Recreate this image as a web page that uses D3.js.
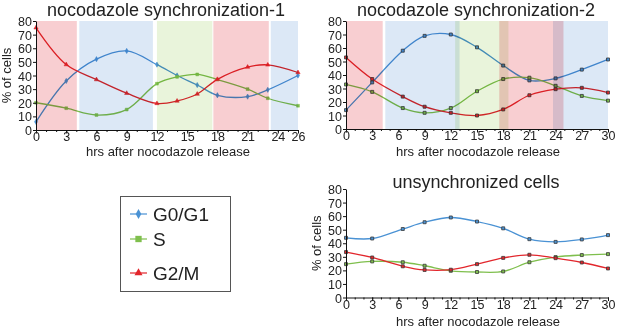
<!DOCTYPE html>
<html lang="en">
<head>
  <meta charset="UTF-8">
  <title>nocodazole synchronization</title>
  <script src="https://cdn.jsdelivr.net/npm/d3@7"></script>
  <style>
    body { margin: 0; background: #fff; }
    svg { font-family: 'Liberation Sans', Arial, sans-serif; }
  </style>
</head>
<body>
</body>
<script>
  // phases + colours
  const phases = ['G0/G1', 'S', 'G2/M']
  const lineColor = { 'G0/G1': '#4a92d4', 'S': '#7fbf4d', 'G2/M': '#e2262c' }
  const bgColor = { 'G0/G1': '#dce8f6', 'S': '#e9f4db', 'G2/M': '#f8ced1' }

  // panel 1 : synchronization-1
  const hours1 = [0, 3, 6, 9, 12, 14, 16, 18, 21, 23, 26]
  const g1Sync1 = [6, 36, 52, 58, 48, 40, 33, 25.5, 24.5, 29.5, 40]
  const sSync1 = [20, 16, 11, 15, 34, 39, 40.8, 37, 30, 23.3, 17.8]
  const g2Sync1 = [75, 48, 37, 27, 19.5, 21.3, 26.4, 37.2, 46.2, 47.8, 42.2]
  const shade1 = [['G2/M', 0, 4.05], ['G0/G1', 4.3, 11.6], ['S', 12, 17.5], ['G2/M', 17.6, 23.1], ['G0/G1', 23.3, 26]]
  const xTicks1 = [0, 3, 6, 9, 12, 15, 18, 21, 24, 26]

  // panel 2 : synchronization-2
  const hours2 = [0, 3, 6.5, 9, 12, 15, 18, 21, 24, 27, 30]
  const g1Sync2 = [14, 34.5, 58, 69, 70, 60.5, 47, 36, 37.5, 44, 51.5]
  const sSync2 = [33, 27.5, 15.5, 12, 15.5, 28, 37, 38, 32, 24.5, 21]
  const g2Sync2 = [53, 37, 24, 16.5, 12, 10, 14.5, 25, 29.5, 30.5, 27]
  const shade2 = [['G2/M', 0, 4.2], ['G0/G1', 4.5, 13], ['S', 12.5, 18.6], ['G2/M', 17.55, 24.9], ['G0/G1', 23.7, 30]]
  const xTicks2 = [0, 3, 6, 9, 12, 15, 18, 21, 24, 27, 30]

  // panel 3 : unsynchronized
  const hours3 = [0, 3, 6.5, 9, 12, 15, 18, 21, 24, 27, 30]
  const g1Unsync = [44, 43.5, 50.5, 55.5, 59, 56, 51, 43, 41, 42.8, 46]
  const sUnsync = [24.6, 26.6, 26, 23.4, 19.7, 18.8, 19.2, 26, 29.8, 31.3, 32]
  const g2Unsync = [33.5, 29.5, 23, 20.3, 20.5, 24.6, 29.2, 31.5, 29, 25.8, 21.4]

  const yTicks = [0, 10, 20, 30, 40, 50, 60, 70, 80]

  const width = 617
  const height = 327
  const svg = d3.select('body').append('svg').attr('width', width).attr('height', height)

  const panels = [
    { title: 'nocodazole synchronization-1', hours: hours1, series: [g1Sync1, sSync1, g2Sync1], shade: shade1,
      xMax: 26, xTicks: xTicks1, left: 36, right: 298, top: 21, bottom: 130, titleY: 15.5, xLabelY: 156,
      yLabel: true, marker: 'shape' },
    { title: 'nocodazole synchronization-2', hours: hours2, series: [g1Sync2, sSync2, g2Sync2], shade: shade2,
      xMax: 30, xTicks: xTicks2, left: 346, right: 608, top: 21, bottom: 129, titleY: 15.5, xLabelY: 156,
      yLabel: false, marker: 'bar' },
    { title: 'unsynchronized cells', hours: hours3, series: [g1Unsync, sUnsync, g2Unsync], shade: [],
      xMax: 30, xTicks: xTicks2, left: 346, right: 608, top: 189, bottom: 297.5, titleY: 187.5, xLabelY: 325.5,
      yLabel: true, marker: 'bar' }
  ]

  panels.forEach(p => drawPanel(p))

  function drawPanel(p) {
    const x = d3.scaleLinear().domain([0, p.xMax]).range([p.left, p.right])
    const y = d3.scaleLinear().domain([0, 80]).range([p.bottom, p.top])
    const g = svg.append('g')

    const line = d3.line()
      .x(d => x(d[0]))
      .y(d => y(d[1]))
      .curve(d3.curveCatmullRom.alpha(0.5))

    // curves
    p.series.forEach((vals, k) => {
      const pts = p.hours.map((h, i) => [h, vals[i]])
      const c = lineColor[phases[k]]
      g.append('path')
        .datum(pts)
        .attr('fill', 'none')
        .attr('stroke', c)
        .attr('stroke-width', 1.3)
        .attr('d', line)

      const sym = p.marker === 'shape'
        ? d3.symbol().type([d3.symbolDiamond, d3.symbolSquare, d3.symbolTriangle][k]).size(8)
        : d3.symbol().type(d3.symbolSquare).size(9)
      g.append('g')
        .selectAll('path')
        .data(pts)
        .join('path')
        .attr('transform', d => `translate(${x(d[0])},${y(d[1])})`)
        .attr('d', sym)
        .attr('fill', c)
        .attr('stroke', p.marker === 'bar' ? '#3a3a3a' : c)
        .attr('stroke-width', p.marker === 'bar' ? 0.8 : 0.5)
    })

    // phase shading, multiplied over the curves
    g.append('g')
      .selectAll('rect')
      .data(p.shade)
      .join('rect')
      .attr('x', d => x(d[1]))
      .attr('width', d => x(d[2]) - x(d[1]))
      .attr('y', y(80))
      .attr('height', y(0) - y(80))
      .attr('fill', d => bgColor[d[0]])
      .style('mix-blend-mode', 'multiply')

    // axes
    const yAxis = g.append('g')
      .attr('transform', `translate(${p.left},0)`)
      .call(d3.axisLeft(y).tickValues(yTicks).tickSize(3).tickPadding(1).tickSizeOuter(0))
    yAxis.selectAll('text').style('font-size', '12.5px').attr('fill', '#222').attr('dy', '0.36em')

    // minor ticks, every hour
    g.append('g')
      .attr('transform', `translate(0,${p.bottom})`)
      .call(d3.axisBottom(x).tickValues(d3.range(0, p.xMax + 1)).tickSize(2))
      .call(a => a.select('.domain').remove())
      .call(a => a.selectAll('text').remove())

    const xAxis = g.append('g')
      .attr('transform', `translate(0,${p.bottom})`)
      .call(d3.axisBottom(x).tickValues(p.xTicks).tickSize(3.5).tickSizeOuter(0))
    xAxis.selectAll('text').style('font-size', '12.5px').attr('fill', '#222').attr('y', 2.5)

    g.selectAll('.domain').attr('stroke', '#111')
    g.selectAll('.tick line').attr('stroke', '#111')

    // titles
    g.append('text')
      .attr('x', (p.left + p.right) / 2 - 1)
      .attr('y', p.titleY)
      .attr('text-anchor', 'middle')
      .style('font-size', '18px')
      .attr('fill', '#222')
      .text(p.title)

    g.append('text')
      .attr('x', (p.left + p.right) / 2 + 1)
      .attr('y', p.xLabelY)
      .attr('text-anchor', 'middle')
      .style('font-size', '13px')
      .attr('fill', '#222')
      .text('hrs after nocodazole release')

    if (p.yLabel) {
      g.append('text')
        .attr('transform', `translate(${p.left - 25},${(p.top + p.bottom) / 2}) rotate(-90)`)
        .attr('text-anchor', 'middle')
        .style('font-size', '13px')
        .attr('fill', '#222')
        .text('% of cells')
    }
  }

  // legend
  const legend = svg.append('g').attr('transform', 'translate(120,196)')
  legend.append('rect')
    .attr('x', 0.5).attr('y', 0.5)
    .attr('width', 110).attr('height', 95)
    .attr('fill', 'none')
    .attr('stroke', '#555')
    .attr('stroke-width', 1)
  const legendY = [18, 43, 77]
  const legendSym = [d3.symbolDiamond, d3.symbolSquare, d3.symbolTriangle]
  phases.forEach((ph, k) => {
    const item = legend.append('g').attr('transform', `translate(0,${legendY[k]})`)
    item.append('line')
      .attr('x1', 10).attr('x2', 27)
      .attr('stroke', lineColor[ph]).attr('stroke-width', 1.2)
    item.append('path')
      .attr('transform', 'translate(18.5,0)')
      .attr('d', d3.symbol().type(legendSym[k]).size(k === 1 ? 40 : 28))
      .attr('fill', lineColor[ph])
    item.append('text')
      .attr('x', 33)
      .attr('dy', '0.35em')
      .style('font-size', '19px')
      .attr('fill', '#222')
      .text(ph)
  })
</script>
</html>
